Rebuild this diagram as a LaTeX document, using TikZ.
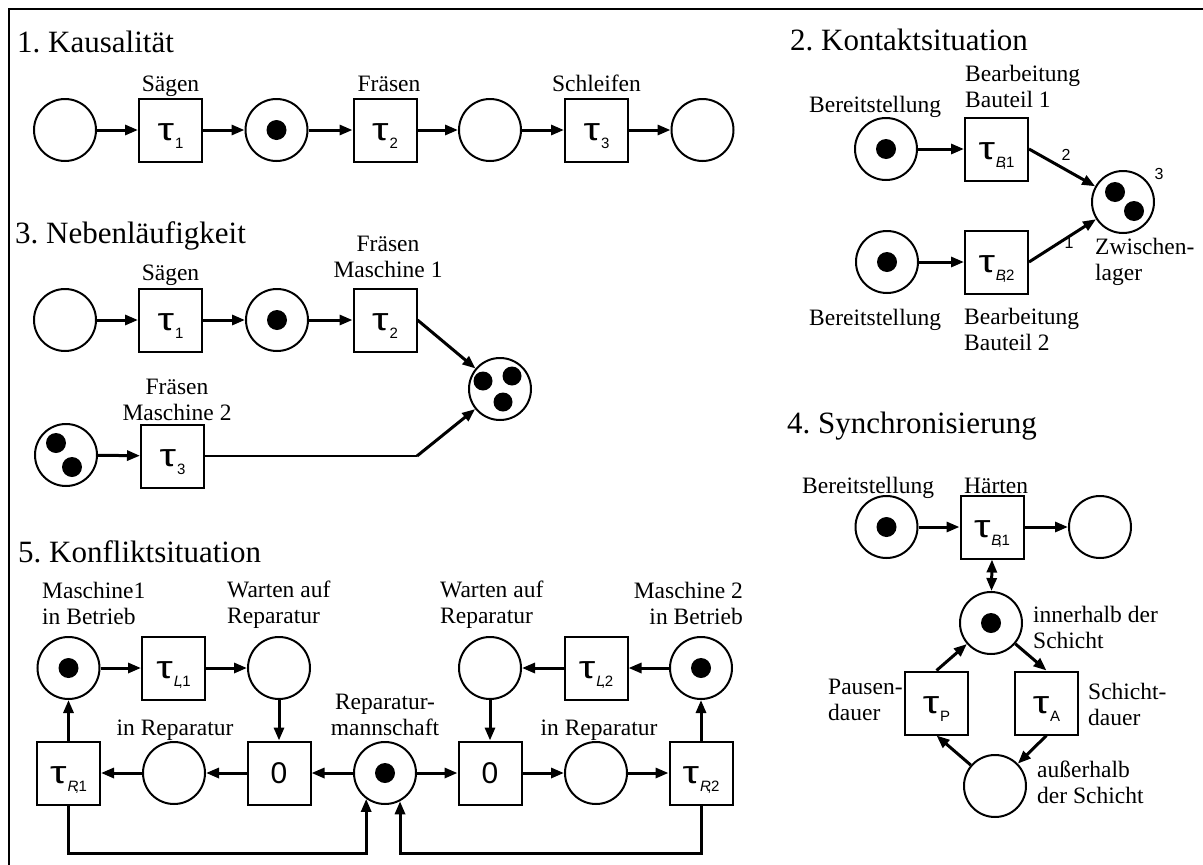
\documentclass[tikz,border=0pt]{standalone}
\usepackage{fontspec}
\setmainfont{Liberation Serif}
\newfontfamily\sansf{Liberation Sans}
\usepackage{graphicx}
\usetikzlibrary{arrows.meta}
\frenchspacing
\newcommand{\tsym}[1]{\scalebox{1.3}[1]{\sansf\fontsize{32}{32}\selectfont τ}\kern1pt\raisebox{-8pt}{\sansf\fontsize{15}{15}\selectfont #1}}
\newcommand{\icomma}[2]{\textit{#1}\kern-3.5pt,\kern-0.5pt#2}
\tikzset{
  place/.style={circle, draw, line width=2pt, minimum size=62pt, inner sep=0pt},
  trans/.style={rectangle, draw, line width=2pt, minimum width=63pt, minimum height=63pt, inner sep=0pt, text height=20pt, text depth=0pt},
  arc/.style={line width=3pt, -{Triangle[length=13pt,width=10pt]}},
  darc/.style={line width=3pt, {Triangle[length=13pt,width=10pt]}-{Triangle[length=13pt,width=10pt]}},
  lbl/.style={font=\fontsize{23.5}{25.5}\selectfont, inner sep=0pt},
  title/.style={font=\fontsize{31}{31}\selectfont, inner sep=0pt, anchor=base west},
  wlbl/.style={font=\sansf\fontsize{16}{16}\selectfont, inner sep=0pt},
  zero/.style={font=\sansf\fontsize{30}{30}\selectfont}
}
\begin{document}
\begin{tikzpicture}[x=1pt,y=-1pt]
\useasboundingbox (0,0) rectangle (1203,865);
\draw[line width=2pt] (9,865) -- (9,9) -- (1203,9);

% ---------- 1. Kausalitaet
\node[title] (h1) at (17,52) {1. Kausalität};
\node[place] (a1) at (65,130) {};
\node[trans] (a2) at (170.5,130) {\tsym{1}};
\node[place] (a3) at (276.5,130) {};
\node[trans] (a4) at (385,130) {\tsym{2}};
\node[place] (a5) at (490,130) {};
\node[trans] (a6) at (596.5,130) {\tsym{3}};
\node[place] (a7) at (702.5,130) {};
\fill (a3) circle (10pt);
\node[lbl, anchor=base] (la2) at (170.5,91) {Sägen};
\node[lbl, anchor=base] (la4) at (389,91) {Fräsen};
\node[lbl, anchor=base] (la6) at (596.5,91) {Schleifen};
\draw[arc] (a1) -- (a2);
\draw[arc] (a2) -- (a3);
\draw[arc] (a3) -- (a4);
\draw[arc] (a4) -- (a5);
\draw[arc] (a5) -- (a6);
\draw[arc] (a6) -- (a7);

% ---------- 2. Kontaktsituation
\node[title] (h2) at (790,50) {2. Kontaktsituation};
\node[place] (b1) at (886,149) {};
\node[trans] (b2) at (996.5,149) {\tsym{\icomma{B}{1}}};
\node[place] (b3) at (887,262) {};
\node[trans] (b4) at (996.5,262) {\tsym{\icomma{B}{2}}};
\node[place] (b5) at (1123,202) {};
\fill (b1) circle (10pt);
\fill (b3) circle (10pt);
\fill ([shift={(-8,-10)}]b5.center) circle (10pt);
\fill ([shift={(11,9)}]b5.center) circle (10pt);
\node[lbl, anchor=base west] (lb1) at (809,112) {Bereitstellung};
\node[lbl, anchor=base west, align=left] (lb2) at (965,107) {Bearbeitung\\Bauteil 1};
\node[lbl, anchor=base west] (lb3) at (809,325) {Bereitstellung};
\node[lbl, anchor=base west, align=left] (lb4) at (964,350) {Bearbeitung\\Bauteil 2};
\node[lbl, anchor=base west, align=left] (lb5) at (1095,280) {Zwischen-\\lager};
\draw[arc] (b1) -- (b2);
\draw[arc] (b3) -- (b4);
\draw[arc] (b2.east) -- (b5);
\draw[arc] (b4.east) -- (b5);
\node[wlbl] (w1) at (1066,155) {2};
\node[wlbl] (w2) at (1069,243) {1};
\node[wlbl] (w3) at (1159,174) {3};

% ---------- 3. Nebenlaeufigkeit
\node[title] (h3) at (15,243) {3. Nebenläufigkeit};
\node[place] (c1) at (65,320) {};
\node[trans] (c2) at (170.5,320) {\tsym{1}};
\node[place] (c3) at (277,320) {};
\node[trans] (c4) at (385,320) {\tsym{2}};
\node[place] (c5) at (500,389) {};
\node[place] (c6) at (66,455) {};
\node[trans] (c7) at (172.5,456) {\tsym{3}};
\fill (c3) circle (10pt);
\fill ([shift={(-17,-8)}]c5.center) circle (9.5pt);
\fill ([shift={(12,-13)}]c5.center) circle (9.5pt);
\fill ([shift={(3,13)}]c5.center) circle (9.5pt);
\fill ([shift={(-10,-12)}]c6.center) circle (10pt);
\fill ([shift={(6,12)}]c6.center) circle (10pt);
\node[lbl, anchor=base] (lc2) at (170.5,280) {Sägen};
\node[lbl, anchor=base, align=center] (lc4) at (388,277) {Fräsen\\Maschine 1};
\node[lbl, anchor=base, align=center] (lc7) at (177,420) {Fräsen\\Maschine 2};
\draw[arc] (c1) -- (c2);
\draw[arc] (c2) -- (c3);
\draw[arc] (c3) -- (c4);
\draw[arc] (c4.east) -- (c5);
\draw[arc] (c6) -- (c7);
\coordinate (cb) at (417,456);
\draw[line width=2pt] (c7.east) -- (cb);
\draw[arc] (cb) -- (c5);

% ---------- 5. Konfliktsituation
\node[title] (h5) at (18,562) {5. Konfliktsituation};
\node[place] (e1) at (68.5,668) {};
\node[trans] (e2) at (173.5,668) {\tsym{\icomma{L}{1}}};
\node[place] (e3) at (279,668) {};
\node[trans, zero] (e4) at (279,773) {0};
\node[place] (e5) at (174,773) {};
\node[trans] (e6) at (68.5,773) {\tsym{\icomma{R}{1}}};
\node[place] (e7) at (385,773) {};
\node[trans, zero] (e8) at (490,773) {0};
\node[place] (e9) at (490,668) {};
\node[trans] (e10) at (596,668) {\tsym{\icomma{L}{2}}};
\node[place] (e11) at (701,668) {};
\node[place] (e12) at (596,773) {};
\node[trans] (e13) at (701,773) {\tsym{\icomma{R}{2}}};
\fill (e1) circle (10pt);
\fill (e7) circle (10pt);
\fill (e11) circle (10pt);
\node[lbl, anchor=base west, align=left] (le1) at (42,624) {Maschine1\\in Betrieb};
\node[lbl, anchor=base west, align=left] (le3) at (227,623) {Warten auf\\Reparatur};
\node[lbl, anchor=base west, align=left] (le9) at (440,623) {Warten auf\\Reparatur};
\node[lbl, anchor=base east, align=right] (le11) at (743,624) {Maschine 2\\in Betrieb};
\node[lbl, anchor=base] (le5) at (175,735) {in Reparatur};
\node[lbl, anchor=base] (le12) at (599,735) {in Reparatur};
\node[lbl, anchor=base, align=center] (le7) at (385,735) {Reparatur-\\mannschaft};
\draw[arc] (e1) -- (e2);
\draw[arc] (e2) -- (e3);
\draw[arc] (e3) -- (e4);
\draw[arc] (e7) -- (e4);
\draw[arc] (e4) -- (e5);
\draw[arc] (e5) -- (e6);
\draw[arc] (e6) -- (e1);
\draw[arc] (e11) -- (e10);
\draw[arc] (e10) -- (e9);
\draw[arc] (e9) -- (e8);
\draw[arc] (e7) -- (e8);
\draw[arc] (e8) -- (e12);
\draw[arc] (e12) -- (e13);
\draw[arc] (e13) -- (e11);
\draw[arc] (e6.south) -- ++(0,48) -| (e7.-126);
\draw[arc] (e13.south) -- ++(0,48) -| (e7.-62);

% ---------- 4. Synchronisierung
\node[title] (h4) at (787,433) {4. Synchronisierung};
\node[place] (d1) at (886.5,527) {};
\node[trans] (d2) at (992,527) {\tsym{\icomma{B}{1}}};
\node[place] (d3) at (1100,527) {};
\node[place] (d4) at (991,623) {};
\node[trans] (d5) at (936.5,703) {\tsym{P}};
\node[trans] (d6) at (1046.5,703) {\tsym{A}};
\node[place] (d7) at (995,786) {};
\fill (d1) circle (10pt);
\fill (d4) circle (10pt);
\node[lbl, anchor=base west] (ld1) at (802,493) {Bereitstellung};
\node[lbl, anchor=base west] (ld2) at (964,493) {Härten};
\node[lbl, anchor=base west, align=left] (ld4) at (1033,648) {innerhalb der\\Schicht};
\node[lbl, anchor=base west, align=left] (ld5) at (828,720) {Pausen-\\dauer};
\node[lbl, anchor=base west, align=left] (ld6) at (1088,725) {Schicht-\\dauer};
\node[lbl, anchor=base west, align=left] (ld7) at (1037,803) {außerhalb\\der Schicht};
\draw[arc] (d1) -- (d2);
\draw[arc] (d2) -- (d3);
\draw[darc] (d2.south) -- (d4);
\draw[arc] (d5.north) -- (d4);
\draw[arc] (d4) -- (d6.north);
\draw[arc] (d6.south) -- (d7);
\draw[arc] (d7) -- (d5.south);
\end{tikzpicture}
\end{document}
